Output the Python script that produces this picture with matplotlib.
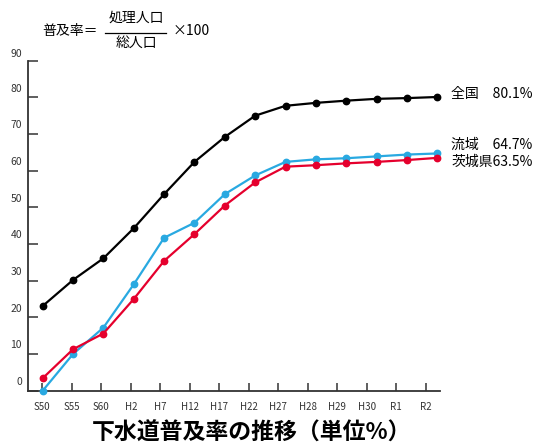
import matplotlib
matplotlib.use("Agg")
import matplotlib.pyplot as plt
from matplotlib.lines import Line2D

plt.rcParams['font.family'] = ['Noto Sans CJK JP', 'DejaVu Sans']

# categories (年度)
years = ['S50', 'S55', 'S60', 'H2', 'H7', 'H12', 'H17', 'H22',
         'H27', 'H28', 'H29', 'H30', 'R1', 'R2']
# 普及率 (%)
zenkoku = [23.1, 30.2, 36.1, 44.3, 53.6, 62.4, 69.2, 75.0, 77.7, 78.5, 79.1, 79.6, 79.8, 80.1]
ryuiki = [0.0, 10.0, 17.2, 29.0, 41.7, 45.8, 53.6, 58.7, 62.4, 63.1, 63.4, 63.9, 64.4, 64.7]
ibaraki = [3.4, 11.3, 15.6, 25.0, 35.4, 42.7, 50.5, 56.8, 61.1, 61.5, 62.0, 62.4, 62.9, 63.5]
yticks = [0, 10, 20, 30, 40, 50, 60, 70, 80, 90]

W, H = 536, 445
gray = '#333333'
black = '#000000'
blue = '#29a9e1'
red = '#e5002d'

fig = plt.figure(figsize=(W / 100, H / 100), dpi=100)
ax = fig.add_axes([28.3 / W, (H - 390.7) / H, (440 - 28.3) / W, 330 / H])

n = len(years)
xs = list(range(n))
ax.set_xlim(-0.475, 13.48)
ax.set_ylim(0, 90)
for s in ['top', 'right']:
    ax.spines[s].set_visible(False)
for s in ['left', 'bottom']:
    ax.spines[s].set_color(gray)
    ax.spines[s].set_linewidth(1.3)

ax.set_xticks(xs)
ax.set_xticklabels(years, fontsize=7, color=gray)
ax.tick_params(axis='x', direction='in', length=5.8, width=1.1, color=gray, pad=8)
ax.set_yticks(yticks)
ax.set_yticklabels([])
ax.tick_params(axis='y', direction='in', length=7.2, width=1.1, color=gray)
for v in yticks:
    ax.annotate(str(v), xy=(0, v), xycoords=('axes fraction', 'data'),
                xytext=(-4.5, 6.2 if v < 90 else 4.5), textcoords='offset points',
                ha='right', va='center', fontsize=7.5, color=gray)

# data drawn on its own x scale (slightly wider spacing than ticks, as in the original)
ax2 = ax.twiny()
ax2.set_xlim(-0.474, 13.09)
ax2.set_ylim(0, 90)
ax2.axis('off')
for vals, c in [(zenkoku, black), (ryuiki, blue), (ibaraki, red)]:
    ax2.plot(xs, vals, color=c, lw=1.6, marker='o', ms=4.6, clip_on=False)

# right side labels
def px(x, y):
    return x / W, 1 - y / H

fig.text(*px(451, 94), '全国　80.1%', fontsize=10, va='center', ha='left')
fig.text(*px(451, 145), '流域　64.7%', fontsize=10, va='center', ha='left')
fig.text(*px(451, 162), '茨城県63.5%', fontsize=10, va='center', ha='left')

# formula
fig.text(*px(42, 31), '普及率＝', fontsize=10, va='center', ha='left')
fig.text(*px(136, 18), '処理人口', fontsize=10, va='center', ha='center')
fig.text(*px(136, 44), '総人口', fontsize=10, va='center', ha='center')
x0, y0 = px(105, 32.5)
x1, _ = px(166, 32.5)
fig.add_artist(Line2D([x0, x1], [y0, y0], transform=fig.transFigure, color=black, lw=0.9))
fig.text(*px(173, 31), '×100', fontsize=10, va='center', ha='left')

# title
fig.text(*px(252, 433), '下水道普及率の推移（単位%）', fontsize=16.5, fontweight='bold',
         va='center', ha='center')

fig.savefig('out.png', dpi=100)
